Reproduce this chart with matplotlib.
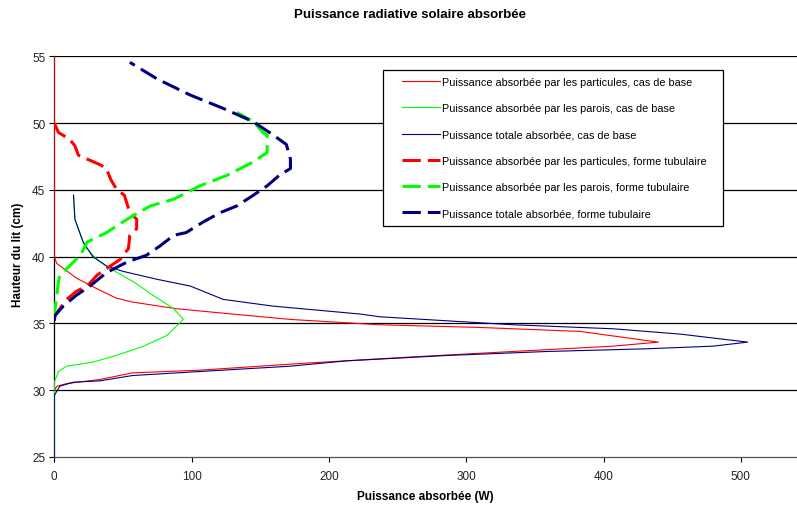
# Puissance radiative solaire absorbee - profils le long de la hauteur du lit
import matplotlib
matplotlib.use("Agg")
import matplotlib.pyplot as plt
from matplotlib.patches import Rectangle

plt.rcParams['font.family'] = ['Liberation Sans', 'DejaVu Sans']

# cas de base (traits fins)
y_part_base = [55, 40.0, 39.5, 38.4, 37.6, 36.9, 36.6, 36.1, 35.7, 35.3, 34.9, 34.7, 34.4, 33.6,
               33.3, 32.9, 32.5, 32.0, 31.5, 31.3, 30.8, 30.5, 30.3, 30.0, 25]
x_part_base = [0, 0, 1.7, 16, 31, 45, 57, 89, 130, 172, 237, 310, 383, 440,
               407, 334, 262, 179, 106, 57, 33, 9, 2, 0, 0]

y_paroi_base = [25, 30.6, 31.4, 31.8, 32.1, 32.6, 33.3, 34.1, 35.3, 36.1, 37.1, 38.1, 39.1, 39.8,
                40.8, 42.8, 44.6]
x_paroi_base = [0, 0, 3, 9, 28, 45, 65, 82, 94, 87, 72, 58, 41, 31,
                22, 15, 14]

y_tot_base = [25, 29.6, 30.3, 30.6, 30.7, 31.1, 31.4, 31.8, 32.2, 32.6, 32.9, 33.1, 33.3, 33.6,
              34.2, 34.6, 34.9, 35.5, 35.7, 36.3, 36.8, 37.8, 38.3, 38.9, 39.3, 40.0, 41.1,
              42.8, 44.6]
x_tot_base = [0, 0, 4, 14, 33, 57, 106, 172, 213, 286, 359, 431, 480, 505,
              456, 407, 334, 237, 223, 159, 123, 99, 75, 50, 38, 28, 21,
              15, 14]

# forme tubulaire (tirets epais)
y_part_tub = [50.0, 49.3, 48.8, 48.3, 47.6, 47.3, 46.9, 46.6, 45.8, 45.1, 44.6, 43.3, 42.8,
              42.1, 41.6, 40.6, 40.1, 39.8, 39.1, 38.6, 37.8, 37.4, 36.8, 35.6, 35.3]
x_part_tub = [0, 3, 11, 15, 17.5, 24, 33, 38, 41, 45, 51, 55, 60,
              60, 55, 54, 50, 48, 38, 31, 24, 16, 9, 0.5, 0]

y_paroi_tub = [35.3, 35.6, 38.1, 38.6, 39.1, 40.1, 41.1, 41.8, 42.8, 43.8, 44.3, 45.3, 46.1,
               47.1, 47.8, 49.1, 49.3, 50.1, 50.8]
x_paroi_tub = [0, 0, 3, 4, 9, 19, 24, 38, 53, 70, 87, 106, 126,
               145, 155, 155, 152, 145, 133]

y_tot_tub = [35.2, 35.6, 36.3, 37.1, 37.8, 38.8, 39.6, 40.1, 40.8, 41.6, 41.8, 42.6, 43.3,
             43.8, 44.6, 45.3, 46.1, 46.6, 47.3, 48.4, 49.1, 50.1, 51.1, 52.1, 53.3, 54.55]
x_tot_tub = [0, 0.5, 6.6, 16, 26, 38, 53, 67, 77, 87, 96, 108.5, 121,
             133, 145, 155, 164, 172, 172, 169, 159.5, 145, 123, 99, 75, 55]

labels = ["Puissance absorbée par les particules, cas de base",
          "Puissance absorbée par les parois, cas de base",
          "Puissance totale absorbée, cas de base",
          "Puissance absorbée par les particules, forme tubulaire",
          "Puissance absorbée par les parois, forme tubulaire",
          "Puissance totale absorbée, forme tubulaire"]

W, H = 797, 506
fig = plt.figure(figsize=(W / 100, H / 100), dpi=100)
ax = fig.add_axes([54.3 / W, 1 - 458 / H, 1 - 54.3 / W, (458 - 57.3) / H])

ax.plot(x_part_base, y_part_base, color='#ff0000', lw=0.8, label=labels[0], zorder=3)
ax.plot(x_paroi_base, y_paroi_base, color='#00ff00', lw=0.8, label=labels[1], zorder=3)
ax.plot(x_tot_base, y_tot_base, color='#000080', lw=0.8, label=labels[2], zorder=3)
ax.plot(x_part_tub, y_part_tub, color='#ff0000', lw=2.2, dashes=(6, 2.3), label=labels[3], zorder=3)
ax.plot(x_paroi_tub, y_paroi_tub, color='#00ff00', lw=2.2, dashes=(6, 2.3), label=labels[4], zorder=3)
ax.plot(x_tot_tub, y_tot_tub, color='#000080', lw=2.2, dashes=(6, 2.3), label=labels[5], zorder=3)

ax.set_xlim(0, (W - 54.3) / 1.373)
ax.set_ylim(25, 55)
ax.set_xticks(range(0, 501, 100))
ax.set_yticks(range(25, 56, 5))
for yv in range(30, 56, 5):
    ax.axhline(yv, color='#000000', lw=0.9, zorder=1)
for s in ['top', 'right']:
    ax.spines[s].set_visible(False)
ax.spines['left'].set_linewidth(0.9)
ax.spines['bottom'].set_linewidth(0.9)
ax.spines['bottom'].set_color('#555555')
ax.tick_params(direction='out', length=3.5, width=0.8, labelsize=8.5, labelcolor='#222222')
ax.tick_params(axis='x', pad=6)
ax.tick_params(axis='y', pad=3)

# cadre de la legende
ax.add_patch(Rectangle((383 / W, 1 - 227 / H), 340 / W, 156 / H, transform=fig.transFigure,
                       facecolor='white', edgecolor='black', lw=0.9, zorder=4, clip_on=False))
leg = ax.legend(loc='upper left', bbox_to_anchor=(402 / W, 1 - 78 / H),
                bbox_transform=fig.transFigure, frameon=False, borderpad=0,
                borderaxespad=0, fontsize=7.8, labelspacing=1.5, handlelength=3.5,
                handletextpad=0.15)
leg.set_zorder(5)

fig.text(410 / W, 1 - 15 / H, "Puissance radiative solaire absorbée", ha='center', va='center',
         fontsize=9.5, fontweight='bold')
fig.text(425 / W, 1 - 497 / H, "Puissance absorbée (W)", ha='center', va='center',
         fontsize=8.5, fontweight='bold')
fig.text(18 / W, 1 - 255 / H, "Hauteur du lit (cm)", ha='center', va='center', rotation=90,
         fontsize=8.5, fontweight='bold')

fig.savefig("out.png", dpi=100)
